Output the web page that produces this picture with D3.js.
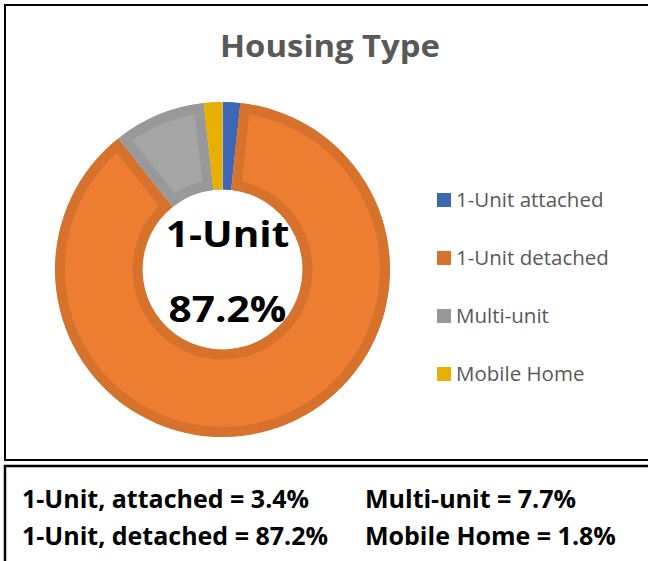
<!DOCTYPE html>
<html>
<head>
<meta charset="utf-8">
<script src="https://cdn.jsdelivr.net/npm/d3@7"></script>
<style>
  body { margin: 0; background: #fff; }
  svg { display: block; }
</style>
</head>
<body>
<div id="chart"></div>
<script>
// slice values
const categories = ["1-Unit attached", "1-Unit detached", "Multi-unit", "Mobile Home"];
const shares = [1.7, 87.6, 8.9, 1.8];

// centre label
const centreLabel = ["1-Unit", "87.2%"];

// summary box under the chart
const summaryNames = ["1-Unit, attached", "1-Unit, detached", "Multi-unit", "Mobile Home"];
const summaryValues = [3.4, 87.2, 7.7, 1.8];

const fills = ["#4472C4", "#ED7D31", "#A5A5A5", "#FFC000"];
const borders = ["#3D67B5", "#D6722C", "#999999", "#E8AE00"];

const width = 648, height = 561;
const cx = 222.5, cy = 269.5;
const outerR = 167.5, innerR = 80;
const font = "'Open Sans', Lato, sans-serif";

const svg = d3.select("#chart")
  .append("svg")
    .attr("width", width)
    .attr("height", height);

// frames (right side runs off the page)
svg.append("rect")
  .attr("x", 5).attr("y", 5)
  .attr("width", 700).attr("height", 455)
  .attr("fill", "none").attr("stroke", "#000").attr("stroke-width", 2);

svg.append("rect")
  .attr("x", 5).attr("y", 466)
  .attr("width", 700).attr("height", 110)
  .attr("fill", "none").attr("stroke", "#000").attr("stroke-width", 2.5);

// title (the original is a bit stretched sideways)
svg.append("text")
  .attr("transform", "translate(330,57) scale(1.06,1)")
  .attr("text-anchor", "middle")
  .style("font-family", font)
  .style("font-weight", "bold")
  .style("font-size", "31px")
  .style("fill", "#595959")
  .text("Housing Type");

const color = d3.scaleOrdinal().domain(categories).range(fills);
const border = d3.scaleOrdinal().domain(categories).range(borders);

const pie = d3.pie()
  .sort(null)
  .value(d => d.value);

const pieData = pie(categories.map((c, i) => ({ name: c, value: shares[i] })));

const arc = d3.arc()
  .innerRadius(innerR)
  .outerRadius(outerR);

const g = svg.append("g")
  .attr("transform", `translate(${cx},${cy})`);

const defs = svg.append("defs");
defs.selectAll("clipPath")
  .data(pieData)
  .join("clipPath")
    .attr("id", (d, i) => "slice" + i)
  .append("path")
    .attr("d", arc);

// each slice gets an inner border (stroke clipped to the slice)
g.selectAll("path.slice")
  .data(pieData)
  .join("path")
    .attr("class", "slice")
    .attr("d", arc)
    .attr("fill", d => color(d.data.name))
    .attr("stroke", d => border(d.data.name))
    .attr("stroke-width", 20)
    .attr("stroke-linejoin", "miter")
    .attr("clip-path", (d, i) => `url(#slice${i})`);

// centre text
g.selectAll("text.centre")
  .data(centreLabel)
  .join("text")
    .attr("class", "centre")
    .attr("transform", (d, i) => `translate(5,${i == 0 ? -23 : 52}) scale(1.16,1)`)
    .attr("text-anchor", "middle")
    .style("font-family", font)
    .style("font-weight", "bold")
    .style("font-size", "35px")
    .style("fill", "#000")
    .text(d => d);

// legend
const legend = svg.append("g")
  .selectAll("g")
  .data(categories)
  .join("g")
    .attr("transform", (d, i) => `translate(437,${200 + i * 58})`);

legend.append("rect")
  .attr("x", 0).attr("y", -7)
  .attr("width", 14).attr("height", 14)
  .attr("fill", d => border(d));

legend.append("text")
  .attr("x", 19).attr("y", 7)
  .style("font-family", font)
  .style("font-size", "20.5px")
  .style("fill", "#595959")
  .text(d => d);

// summary text, two columns
svg.append("g")
  .selectAll("text")
  .data(summaryNames)
  .join("text")
    .attr("x", (d, i) => i < 2 ? 22 : 365)
    .attr("y", (d, i) => 508 + (i % 2) * 37)
    .style("font-family", font)
    .style("font-weight", "bold")
    .style("font-size", "25px")
    .style("fill", "#000")
    .text((d, i) => `${d} = ${summaryValues[i]}%`);
</script>
</body>
</html>
